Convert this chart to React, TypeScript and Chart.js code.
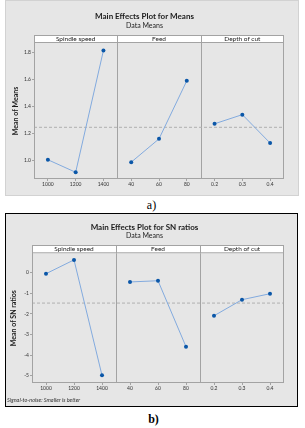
import React, { useEffect, useRef } from 'react';
import { Chart, registerables } from 'chart.js';
Chart.register(...registerables);

// ---- data ----
const factorNames = ['Spindle speed', 'Feed', 'Depth of cut'];
const spindleLevels = ['1000', '1200', '1400'];
const feedLevels = ['40', '60', '80'];
const depthLevels = ['0.2', '0.3', '0.4'];

const meansSpindle = [1.003, 0.91, 1.815];
const meansFeed = [0.985, 1.158, 1.589];
const meansDepth = [1.27, 1.338, 1.127];
const meansYTicks = [1.0, 1.2, 1.4, 1.6, 1.8];

const snSpindle = [-0.05, 0.62, -4.98];
const snFeed = [-0.45, -0.39, -3.59];
const snDepth = [-2.09, -1.31, -1.02];
const snYTicks = [0, -1, -2, -3, -4, -5];

const FONT = "Lato, 'Open Sans', sans-serif";
const LINE = '#82aade';
const PT = '#0b57a8';
const FRAME = '#a3a3a3';

type Fig = {
  left: number; top: number; w: number; h: number;
  title: string; subtitle: string; yTitle: string;
  series: number[][]; yTicks: number[]; yMin: number; yMax: number; dec: number;
  footnote?: string;
  titlePadTop: number; subPadTop: number; subPadBottom: number; yAxisW: number; xAxisH: number; padRight: number; yTitlePad: number;
};

const panelPlugin = {
  id: 'panels',
  beforeDatasetsDraw(chart: any, _a: any, opts: any) {
    const { ctx, chartArea: { top, bottom }, scales: { x } } = chart;
    ctx.save();
    ctx.strokeStyle = FRAME;
    ctx.lineWidth = 1;
    for (let k = 1; k < 3; k++) {
      const px = Math.round(x.getPixelForValue(3 * k)) + 0.5;
      ctx.beginPath();
      ctx.moveTo(px, top - opts.stripH);
      ctx.lineTo(px, bottom);
      ctx.stroke();
    }
    ctx.restore();
  },
  afterDraw(chart: any, _a: any, opts: any) {
    const { ctx, chartArea: { left, right, top, bottom }, scales: { x } } = chart;
    const sh = opts.stripH;
    ctx.save();
    ctx.fillStyle = '#ffffff';
    ctx.fillRect(left, top - sh, right - left, sh);
    ctx.strokeStyle = FRAME;
    ctx.lineWidth = 1;
    ctx.beginPath();
    ctx.moveTo(left, top - 0.5);
    ctx.lineTo(right, top - 0.5);
    ctx.stroke();
    for (let k = 1; k < 3; k++) {
      const px = Math.round(x.getPixelForValue(3 * k)) + 0.5;
      ctx.beginPath();
      ctx.moveTo(px, top - sh);
      ctx.lineTo(px, top);
      ctx.stroke();
    }
    ctx.strokeRect(Math.round(left) + 0.5, Math.round(top - sh) + 0.5, Math.round(right - left) - 1, Math.round(bottom - top + sh) - 1);
    ctx.fillStyle = '#222';
    ctx.font = `6.5px ${FONT}`;
    ctx.textAlign = 'center';
    ctx.textBaseline = 'middle';
    factorNames.forEach((n, k) => {
      const cx = (x.getPixelForValue(3 * k) + x.getPixelForValue(3 * k + 3)) / 2;
      ctx.fillText(n, cx, top - sh / 2);
    });
    if (opts.footnote) {
      ctx.font = `italic 5.5px ${FONT}`;
      ctx.fillStyle = '#333';
      ctx.textAlign = 'left';
      ctx.fillText(opts.footnote, opts.footX, opts.footY);
    }
    ctx.restore();
  },
};

function EffectsChart({ fig }: { fig: Fig }) {
  const ref = useRef<HTMLCanvasElement>(null);
  useEffect(() => {
    const xLabels = [spindleLevels, feedLevels, depthLevels].flat();
    const xPos = xLabels.map((_, i) => i + 0.5);
    const all = fig.series.flat();
    const grand = all.reduce((a, b) => a + b, 0) / all.length;
    const datasets: any[] = [
      ...fig.series.map((vals, p) => ({
        data: vals.map((v, j) => ({ x: p * 3 + j + 0.5, y: v })),
        borderColor: LINE,
        borderWidth: 1,
        pointRadius: 2,
        pointBackgroundColor: PT,
        pointBorderColor: PT,
        pointBorderWidth: 0,
        order: 1,
      })),
      {
        data: [{ x: 0, y: grand }, { x: 9, y: grand }],
        borderColor: '#b0b0b0',
        borderWidth: 1,
        borderDash: [3, 2],
        pointRadius: 0,
        order: 5,
      },
    ];
    const chart = new Chart(ref.current!, {
      type: 'line',
      data: { datasets },
      options: {
        animation: false,
        responsive: false,
        devicePixelRatio: 1,
        layout: { padding: { left: 0, right: fig.padRight, top: 0, bottom: 0 } },
        plugins: {
          legend: { display: false },
          tooltip: { enabled: false },
          title: {
            display: true,
            text: fig.title,
            color: '#1a1a1a',
            font: { family: FONT, size: 8, weight: 'bold' },
            padding: { top: fig.titlePadTop, bottom: 0 },
          },
          subtitle: {
            display: true,
            text: fig.subtitle,
            color: '#222',
            font: { family: FONT, size: 7 },
            padding: { top: fig.subPadTop, bottom: fig.subPadBottom },
          },
          panels: { stripH: 8, footnote: fig.footnote, footX: 2, footY: fig.h - 6.5 },
        } as any,
        scales: {
          x: {
            type: 'linear',
            min: 0,
            max: 9,
            afterBuildTicks: (s: any) => { s.ticks = xPos.map((v) => ({ value: v })); },
            afterFit: (s: any) => { s.height = fig.xAxisH; },
            ticks: {
              autoSkip: false,
              maxRotation: 0,
              padding: 0,
              color: '#333',
              font: { family: FONT, size: 5 },
              callback: (_v: any, i: number) => xLabels[i],
            },
            grid: { drawOnChartArea: false, drawTicks: true, tickLength: 2, color: FRAME },
            border: { display: false },
          },
          y: {
            type: 'linear',
            min: fig.yMin,
            max: fig.yMax,
            afterBuildTicks: (s: any) => { s.ticks = fig.yTicks.map((v) => ({ value: v })); },
            afterFit: (s: any) => { s.width = fig.yAxisW; },
            ticks: {
              padding: 1,
              color: '#333',
              font: { family: FONT, size: 5 },
              callback: (v: any) => Number(v).toFixed(fig.dec),
            },
            grid: { drawOnChartArea: false, drawTicks: true, tickLength: 2, color: FRAME },
            border: { display: false },
            title: {
              display: true,
              text: fig.yTitle,
              color: '#1a1a1a',
              font: { family: FONT, size: 7, weight: 'bold' },
              padding: { top: fig.yTitlePad, bottom: 0 },
            },
          },
        },
      } as any,
      plugins: [panelPlugin],
    });
    return () => chart.destroy();
  }, []);
  return (
    <canvas
      ref={ref}
      width={fig.w}
      height={fig.h}
      style={{ position: 'absolute', left: fig.left, top: fig.top, width: fig.w, height: fig.h }}
    />
  );
}

const figA: Fig = {
  left: 5, top: 0, w: 294, h: 196,
  title: 'Main Effects Plot for Means', subtitle: 'Data Means', yTitle: 'Mean of Means',
  series: [meansSpindle, meansFeed, meansDepth], yTicks: meansYTicks, yMin: 0.86, yMax: 1.87, dec: 1,
  titlePadTop: 11.2, subPadTop: 0.7, subPadBottom: 13.1, yAxisW: 29, xAxisH: 17, padRight: 15, yTitlePad: 6.8,
};

const figB: Fig = {
  left: 5, top: 213, w: 293, h: 194,
  title: 'Main Effects Plot for SN ratios', subtitle: 'Data Means', yTitle: 'Mean of SN ratios',
  series: [snSpindle, snFeed, snDepth], yTicks: snYTicks, yMin: -5.35, yMax: 0.94, dec: 0,
  footnote: 'Signal-to-noise: Smaller is better',
  titlePadTop: 9.2, subPadTop: 0, subPadBottom: 13.1, yAxisW: 27, xAxisH: 24, padRight: 14, yTitlePad: 4.8,
};

export default function App() {
  useEffect(() => {
    document.body.style.margin = '0';
    document.body.style.background = '#ffffff';
  }, []);
  return (
    <div style={{ position: 'relative', width: 305, height: 428, overflow: 'hidden', background: '#fff' }}>
      <div style={{ position: 'absolute', left: 5, top: 0, width: 294, height: 196, boxSizing: 'border-box', background: '#e6e6e6', border: '1px solid #d2d2d2' }} />
      <EffectsChart fig={figA} />
      <div style={{ position: 'absolute', left: 0, width: 305, top: 198, textAlign: 'center', fontFamily: "'Liberation Serif', serif", fontSize: 12, lineHeight: '14px' }}>
        <span style={{ position: 'relative', left: -1 }}>a)</span>
      </div>
      <div style={{ position: 'absolute', left: 5, top: 213, width: 293, height: 194, boxSizing: 'border-box', background: '#e6e6e6', border: '1px solid #000' }} />
      <EffectsChart fig={figB} />
      <div style={{ position: 'absolute', left: 0, width: 305, top: 412, textAlign: 'center', fontFamily: "'Liberation Serif', serif", fontSize: 12, fontWeight: 'bold', lineHeight: '14px' }}>
        <span style={{ position: 'relative', left: 1 }}>b)</span>
      </div>
    </div>
  );
}
